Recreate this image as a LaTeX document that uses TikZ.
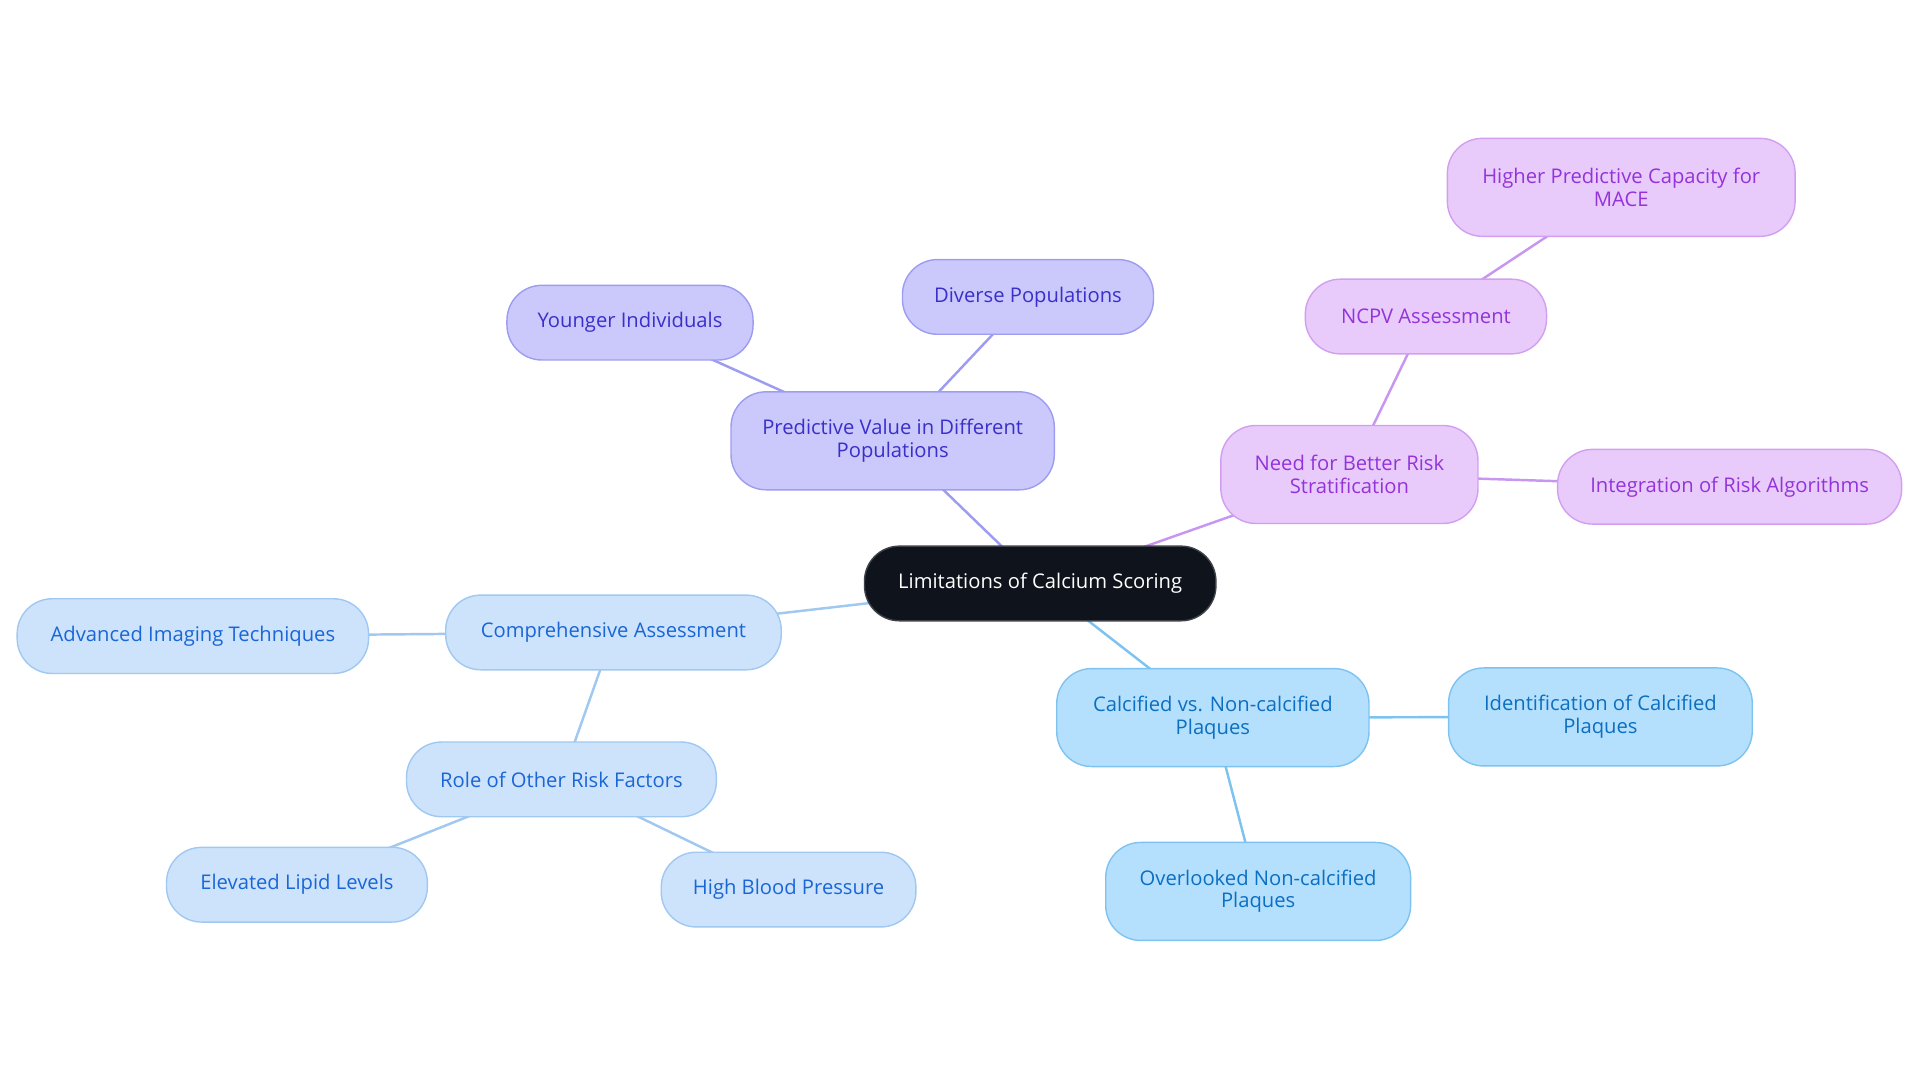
\documentclass[tikz,border=0pt]{standalone}
\usepackage{fontspec}
\setmainfont{Open Sans}
\usepackage{tikz}
\usetikzlibrary{backgrounds}
\definecolor{rootfill}{HTML}{0F141C}
\definecolor{indfill}{HTML}{CBC9FB}
\definecolor{inddraw}{HTML}{9D9CF0}
\definecolor{indtext}{HTML}{3B2FC9}
\definecolor{purfill}{HTML}{E8CBFB}
\definecolor{purdraw}{HTML}{D29FF0}
\definecolor{purline}{HTML}{C896F0}
\definecolor{purtext}{HTML}{9333D9}
\definecolor{lbfill}{HTML}{CDE3FB}
\definecolor{lbdraw}{HTML}{A0C8F0}
\definecolor{lbtext}{HTML}{1A66D6}
\definecolor{skyfill}{HTML}{B5E0FD}
\definecolor{skydraw}{HTML}{7EC3F0}
\definecolor{skytext}{HTML}{0B6FC2}
\tikzstyle{topic} = [rounded corners=0.7cm, line width=0.8pt, align=center, inner sep=0pt, minimum height=1.494cm]
\tikzstyle{topictwo} = [topic, minimum height=1.96cm]
\tikzstyle{root} = [topic, fill=rootfill, draw=rootfill!80!white, text=white]
\tikzstyle{ind} = [fill=indfill, draw=inddraw, text=indtext]
\tikzstyle{pur} = [fill=purfill, draw=purdraw, text=purtext]
\tikzstyle{lb} = [fill=lbfill, draw=lbdraw, text=lbtext]
\tikzstyle{sky} = [fill=skyfill, draw=skydraw, text=skytext]
\tikzstyle{link} = [line width=1.4pt]

\begin{document}
\begin{tikzpicture}[x=0.02449cm, y=-0.02449cm]
	\tikzstyle{every node}=[font=\fontsize{11.5}{12.8}\selectfont]
	\useasboundingbox (0,0) rectangle (1568,884.4);
	
	% ------------------- Root ------------------- %
	\node[root, minimum width=287*0.02449cm] (limits) at (849.5,476.5) {Limitations of Calcium Scoring};
	
	% ------------------- Populations ------------------- %
	\node[topictwo, ind, minimum width=264*0.02449cm] (predictive) at (729,360) {Predictive Value in Different\\Populations};
	\node[topic, ind, minimum width=201*0.02449cm] (younger) at (514.5,263.5) {Younger Individuals};
	\node[topic, ind, minimum width=205*0.02449cm] (diverse) at (839.5,242.5) {Diverse Populations};
	
	% ------------------- Risk stratification ------------------- %
	\node[topictwo, pur, minimum width=210*0.02449cm] (stratify) at (1102,387.5) {Need for Better Risk\\Stratification};
	\node[topic, pur, minimum width=197*0.02449cm] (ncpv) at (1164.5,258.5) {NCPV Assessment};
	\node[topictwo, pur, minimum width=284*0.02449cm] (mace) at (1324,153) {Higher Predictive Capacity for\\MACE};
	\node[topic, pur, minimum width=281*0.02449cm] (algos) at (1412.5,397.5) {Integration of Risk Algorithms};
	
	% ------------------- Comprehensive assessment ------------------- %
	\node[topic, lb, minimum width=274*0.02449cm] (assess) at (501,516.5) {Comprehensive Assessment};
	\node[topic, lb, minimum width=287*0.02449cm] (imaging) at (157.5,519.5) {Advanced Imaging Techniques};
	\node[topic, lb, minimum width=253*0.02449cm] (riskf) at (458.5,636.5) {Role of Other Risk Factors};
	\node[topic, lb, minimum width=213*0.02449cm] (lipid) at (242.5,722.5) {Elevated Lipid Levels};
	\node[topic, lb, minimum width=208*0.02449cm] (pressure) at (644,726.5) {High Blood Pressure};
	
	% ------------------- Plaques ------------------- %
	\node[topictwo, sky, minimum width=255*0.02449cm] (plaques) at (990.5,586) {Calcified vs. Non-calcified\\Plaques};
	\node[topictwo, sky, minimum width=248*0.02449cm] (calcified) at (1307,585.5) {Identification of Calcified\\Plaques};
	\node[topictwo, sky, minimum width=249*0.02449cm] (overlooked) at (1027.5,728) {Overlooked Non-calcified\\Plaques};
	
	% ------------------- Links ------------------- %
	\begin{scope}[on background layer]
	\draw[link, inddraw] (limits.center) -- (predictive.center);
	\draw[link, inddraw] (predictive.center) -- (younger.center);
	\draw[link, inddraw] (predictive.center) -- (diverse.center);
	\draw[link, purline] (limits.center) -- (stratify.center);
	\draw[link, purline] (stratify.center) -- (ncpv.center);
	\draw[link, purline] (ncpv.center) -- (mace.center);
	\draw[link, purline] (stratify.center) -- (algos.center);
	\draw[link, lbdraw] (limits.center) -- (assess.center);
	\draw[link, lbdraw] (assess.center) -- (imaging.center);
	\draw[link, lbdraw] (assess.center) -- (riskf.center);
	\draw[link, lbdraw] (riskf.center) -- (lipid.center);
	\draw[link, lbdraw] (riskf.center) -- (pressure.center);
	\draw[link, skydraw] (limits.center) -- (plaques.center);
	\draw[link, skydraw] (plaques.center) -- (calcified.center);
	\draw[link, skydraw] (plaques.center) -- (overlooked.center);
	\end{scope}
	
\end{tikzpicture}
\end{document}
